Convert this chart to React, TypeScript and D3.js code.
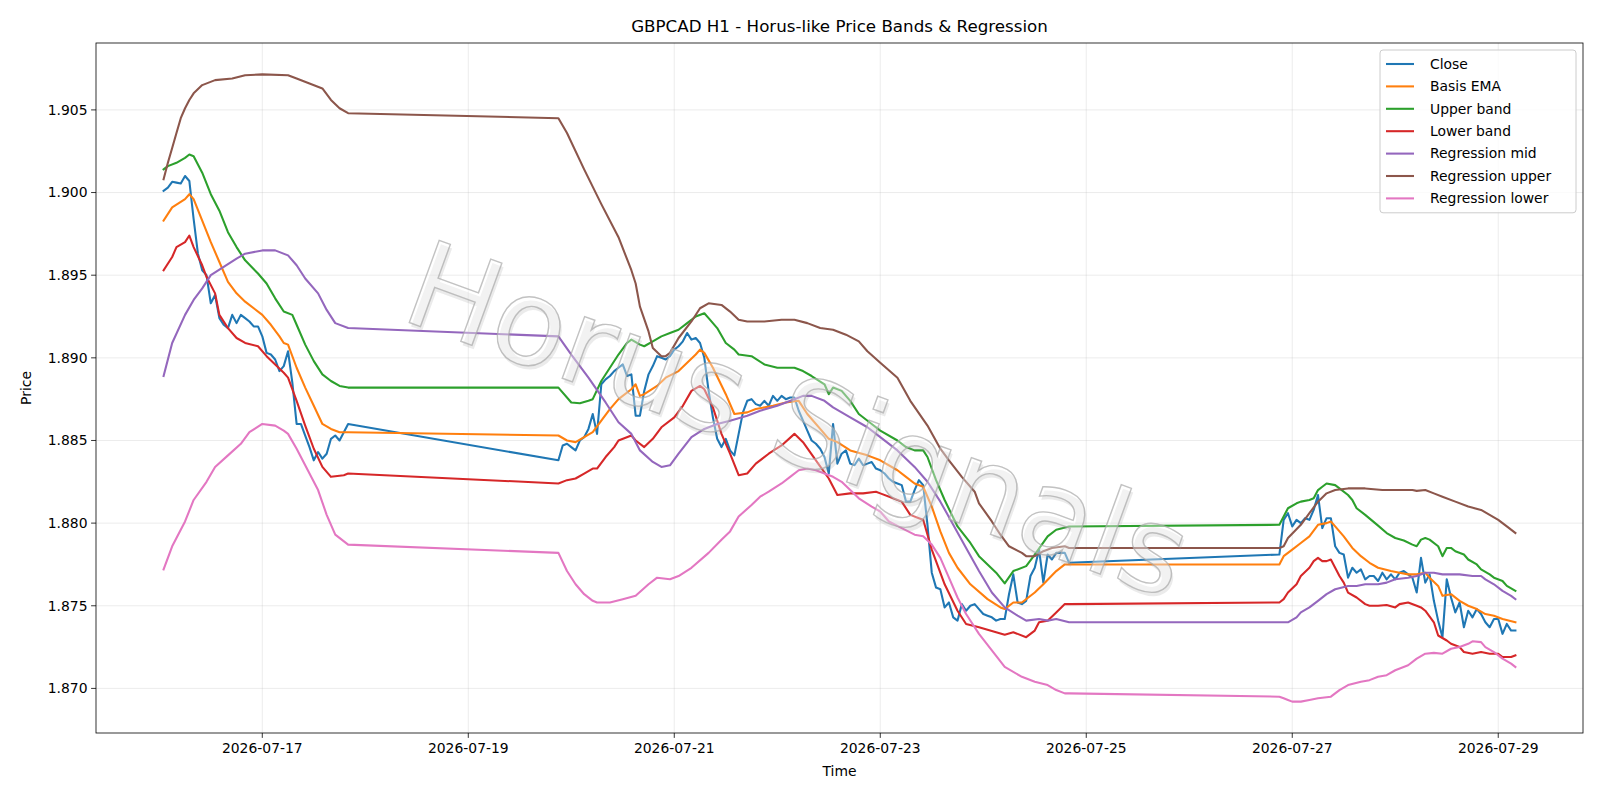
import React from "react";
import * as d3 from "d3";

// hours are counted from the first bar, 2026-07-16 01:00 UTC
const START = Date.UTC(2026, 6, 16, 1);
const HOUR = 3600 * 1000;

const closeS1 = [
  1.9001, 1.9003, 1.90065, 1.9006, 1.90055, 1.901, 1.9007, 1.8984, 1.8963, 1.8953,
  1.895, 1.8933, 1.8938, 1.8924, 1.892, 1.8918, 1.8926, 1.8921, 1.8926, 1.8924,
  1.8922, 1.8919, 1.8919, 1.8913, 1.8903, 1.8902, 1.8899, 1.8892, 1.8895, 1.8904,
  1.8885, 1.886, 1.886, 1.8853, 1.8846, 1.8838, 1.8843, 1.8839, 1.8842, 1.8851,
  1.8853, 1.885, 1.8855, 1.886,
];
const closeS2 = [
  1.8838, 1.8847, 1.8848, 1.8846, 1.8844, 1.885, 1.8852, 1.8857, 1.8866, 1.8854,
  1.8884, 1.8887, 1.8889, 1.8892, 1.8894, 1.8896, 1.8889, 1.889, 1.8865, 1.8865,
  1.888, 1.889, 1.8895, 1.8901, 1.89, 1.8899, 1.8901, 1.8905, 1.8907, 1.891,
  1.8915, 1.8911, 1.8912, 1.8909, 1.89, 1.888, 1.8864, 1.8851, 1.8846, 1.8851,
  1.8844, 1.8841, 1.8854, 1.8867, 1.8874, 1.8875, 1.8872, 1.8871, 1.8874, 1.8871,
  1.8877, 1.8874, 1.8877, 1.8875, 1.8876, 1.8876, 1.8868, 1.8862, 1.8856, 1.885,
  1.8848, 1.8845, 1.884, 1.883, 1.886, 1.8836, 1.8842, 1.8844, 1.8836, 1.8835,
  1.8839, 1.8835, 1.8836, 1.8837, 1.8833, 1.8832, 1.883, 1.8827, 1.8825, 1.8824,
  1.8823, 1.8813, 1.8813, 1.882, 1.8826, 1.8823, 1.8799, 1.877, 1.8761, 1.876,
  1.8749, 1.8752, 1.8743, 1.8741, 1.8751, 1.8747, 1.875, 1.8751, 1.8748, 1.8745,
  1.8744, 1.8743, 1.8741, 1.8742, 1.8742, 1.8757, 1.8769, 1.8752, 1.8751, 1.8753,
  1.8768, 1.8773, 1.8784, 1.8764, 1.8781, 1.8778, 1.8782, 1.8782, 1.8782, 1.8776,
];
const closeS3 = [
  1.8781, 1.8802, 1.8806, 1.8798, 1.8802, 1.88, 1.8803, 1.8802, 1.8808, 1.8817,
  1.8797, 1.8803, 1.8803, 1.8786, 1.8782, 1.8781, 1.8767, 1.8773, 1.877, 1.8772,
  1.8766, 1.8768, 1.8768, 1.8765, 1.877, 1.8766, 1.8769, 1.8766, 1.877, 1.8771,
  1.8769, 1.8767, 1.8758, 1.8779, 1.8764, 1.8769, 1.8753, 1.8741, 1.8731, 1.8766,
  1.8755, 1.8746, 1.8752, 1.8737, 1.8747, 1.8743, 1.8748, 1.8745, 1.874, 1.8737,
  1.8742, 1.8742, 1.8733, 1.8739, 1.8735, 1.8735,
];
// first hour of each trading session (Thu 01:00, Sun 21:00, Sun 21:00)
const sessionStarts = [0, 92, 260];

// indicator lines as [hour, price]
const basisEma: [number, number][] = [
  [0, 1.8983], [2, 1.8991], [5, 1.8996], [6, 1.8999], [7, 1.8996], [9, 1.8983], [11, 1.897], [13, 1.8958],
  [15, 1.8946], [17, 1.8939], [19, 1.8934], [23, 1.8926], [25, 1.892], [27, 1.8913], [28, 1.8909], [29, 1.8908],
  [31, 1.8894], [33, 1.8882], [35, 1.8871], [37, 1.886], [39, 1.8857], [41, 1.8855], [43, 1.8855],
  [92, 1.8853], [94, 1.885], [96, 1.8849], [98, 1.8852], [100, 1.8855], [102, 1.8862], [104, 1.8869], [106, 1.8875],
  [109, 1.8881], [110, 1.8884], [111, 1.8877], [112, 1.8878], [115, 1.8883], [117, 1.8888], [120, 1.8892], [122, 1.8897],
  [124, 1.8902], [125, 1.8905], [126, 1.8903], [128, 1.8894], [131, 1.8878], [133, 1.8866], [136, 1.8867], [138, 1.8869],
  [142, 1.8871], [145, 1.8873], [148, 1.8874], [150, 1.8866], [153, 1.8857], [155, 1.8851], [157, 1.8849], [160, 1.8844],
  [164, 1.8841], [167, 1.8838], [171, 1.8832], [173, 1.8828], [175, 1.8824], [177, 1.8822], [179, 1.881], [181, 1.8795],
  [183, 1.8782], [185, 1.8773], [188, 1.8763], [192, 1.8754], [195, 1.8749], [196, 1.8748], [198, 1.8752], [200, 1.8752],
  [203, 1.8758], [205, 1.8763], [208, 1.8771], [210, 1.8775], [211, 1.8775],
  [260, 1.8775], [261, 1.878], [263, 1.8784], [265, 1.8788], [267, 1.8792], [268, 1.87955], [269, 1.8799], [271, 1.88],
  [272, 1.8801], [273, 1.8798], [275, 1.8792], [277, 1.8785], [279, 1.878], [281, 1.8776], [283, 1.8773], [286, 1.8771],
  [288, 1.877], [290, 1.8769], [292, 1.8769], [294, 1.877], [295, 1.8767], [297, 1.8762], [298, 1.8756], [300, 1.8757],
  [302, 1.8753], [304, 1.875], [306, 1.8748], [308, 1.8745], [310, 1.8744], [312, 1.8742], [315, 1.874],
];
const upperBand: [number, number][] = [
  [0, 1.9014], [1, 1.9016], [3, 1.9018], [5, 1.9021], [6, 1.9023], [7, 1.9022], [9, 1.9012], [11, 1.8999],
  [13, 1.8989], [15, 1.8976], [17, 1.8967], [19, 1.8959], [22, 1.8951], [24, 1.8945], [26, 1.8936], [28, 1.8928],
  [30, 1.8926], [31, 1.892], [33, 1.8908], [35, 1.8898], [37, 1.889], [39, 1.8886], [41, 1.8883], [43, 1.8882],
  [92, 1.8882], [95, 1.8873], [97, 1.88725], [99, 1.8874], [100, 1.8875], [102, 1.8886], [104, 1.8894], [106, 1.8902],
  [108, 1.8909], [109, 1.8911], [111, 1.8908], [112, 1.8907], [114, 1.891], [116, 1.8913], [118, 1.8915], [120, 1.8917],
  [122, 1.8921], [124, 1.8925], [126, 1.8927], [127, 1.8924], [129, 1.8918], [131, 1.8909], [133, 1.8905], [134, 1.8902],
  [137, 1.8901], [140, 1.8896], [143, 1.8894], [147, 1.8894], [149, 1.8892], [151, 1.8889], [154, 1.8884], [155, 1.8878],
  [156, 1.8882], [158, 1.888], [160, 1.8874], [162, 1.8866], [165, 1.886], [167, 1.8856], [171, 1.885], [173, 1.8846],
  [175, 1.8844], [177, 1.8844], [178, 1.884], [180, 1.8826], [182, 1.8814], [185, 1.8798], [188, 1.8788], [190, 1.878],
  [194, 1.877], [196, 1.87635], [198, 1.8771], [201, 1.8774], [203, 1.8781], [206, 1.8792], [208, 1.8796], [211, 1.8798],
  [260, 1.8799], [261, 1.8804], [262, 1.8809], [264, 1.8812], [265, 1.8813], [267, 1.8814], [268, 1.8815], [269, 1.882],
  [270, 1.8822], [271, 1.8824], [273, 1.8823], [274, 1.8821], [276, 1.8817], [277, 1.8814], [278, 1.8809], [280, 1.8805],
  [283, 1.87985], [285, 1.8794], [287, 1.8791], [289, 1.87895], [291, 1.8787], [292, 1.8786], [293, 1.879], [294, 1.8791],
  [295, 1.879], [297, 1.8786], [298, 1.878], [299, 1.8785], [300, 1.8785], [301, 1.8783], [303, 1.8781], [304, 1.8778],
  [306, 1.8775], [307, 1.8772], [309, 1.8769], [310, 1.8767], [312, 1.8765], [313, 1.8762], [315, 1.8759],
];
const lowerBand: [number, number][] = [
  [0, 1.8953], [2, 1.8961], [3, 1.8967], [5, 1.897], [6, 1.8974], [7, 1.8967], [9, 1.8956], [10, 1.8949],
  [12, 1.8939], [13, 1.8926], [15, 1.8918], [17, 1.8912], [19, 1.8909], [22, 1.8907], [24, 1.8901], [26, 1.8896],
  [28, 1.8891], [29, 1.8888], [31, 1.8874], [33, 1.8859], [35, 1.8845], [37, 1.8834], [39, 1.8828], [42, 1.8829], [43, 1.883],
  [92, 1.8824], [94, 1.8826], [96, 1.8827], [98, 1.883], [100, 1.8833], [101, 1.8833], [103, 1.884], [105, 1.8846],
  [106, 1.885], [109, 1.8853], [110, 1.885], [112, 1.8846], [114, 1.8851], [116, 1.8858], [119, 1.8864], [121, 1.8871],
  [123, 1.888], [125, 1.8883], [126, 1.8881], [128, 1.887], [130, 1.8854], [132, 1.8842], [134, 1.8829], [136, 1.883],
  [138, 1.8836], [141, 1.8842], [144, 1.8847], [147, 1.8854], [149, 1.8849], [152, 1.8838], [155, 1.8827], [157, 1.8817],
  [160, 1.8818], [163, 1.8818], [166, 1.8819], [167, 1.8818], [170, 1.8815], [172, 1.8813], [174, 1.8805], [176, 1.8803],
  [177, 1.8802], [179, 1.8784], [182, 1.8763], [185, 1.8747], [187, 1.8739], [190, 1.8737], [194, 1.8734], [196, 1.87325],
  [198, 1.8734], [201, 1.8731], [203, 1.8735], [204, 1.874], [206, 1.8741], [208, 1.8746], [210, 1.8751], [211, 1.8751],
  [260, 1.8752], [261, 1.8754], [262, 1.8758], [264, 1.8763], [265, 1.8768], [267, 1.8773], [268, 1.8777], [269, 1.8779],
  [270, 1.8777], [271, 1.8777], [272, 1.8778], [273, 1.8773], [274, 1.8768], [275, 1.8764], [276, 1.8758], [278, 1.8755],
  [280, 1.8751], [281, 1.875], [283, 1.875], [285, 1.87505], [287, 1.8749], [288, 1.8751], [290, 1.8752], [292, 1.875],
  [293, 1.8749], [294, 1.8747], [296, 1.874], [297, 1.8732], [299, 1.8729], [300, 1.8727], [302, 1.8725], [303, 1.8722],
  [305, 1.8721], [307, 1.8722], [309, 1.8721], [311, 1.8721], [312, 1.8719], [314, 1.8719], [315, 1.872],
];
const regMid: [number, number][] = [
  [0, 1.8889], [2, 1.8909], [5, 1.8926], [7, 1.8935], [9, 1.8942], [11, 1.895], [14, 1.8955], [17, 1.896],
  [19, 1.8963], [23, 1.8965], [26, 1.8965], [29, 1.8962], [31, 1.8956], [33, 1.8948], [36, 1.8939], [38, 1.8929],
  [40, 1.8921], [43, 1.8918],
  [92, 1.8913], [95, 1.8902], [99, 1.8888], [103, 1.8873], [106, 1.8861], [109, 1.8854], [111, 1.8844], [114, 1.8837],
  [116, 1.8834], [118, 1.8835], [120, 1.8842], [123, 1.8852], [126, 1.8857], [129, 1.886], [132, 1.8862], [136, 1.8865],
  [139, 1.8868], [143, 1.8871], [147, 1.8875], [149, 1.8877], [151, 1.8877], [154, 1.8874], [156, 1.887], [160, 1.8864],
  [164, 1.8858], [167, 1.8852], [171, 1.8844], [175, 1.8834], [178, 1.8825], [181, 1.8813], [184, 1.8799], [187, 1.8785],
  [190, 1.8771], [193, 1.8758], [196, 1.8749], [199, 1.8744], [201, 1.8741], [204, 1.8742], [206, 1.8741], [208, 1.8742], [211, 1.874],
  [260, 1.874], [262, 1.874], [264, 1.8743], [265, 1.8746], [267, 1.8749], [269, 1.8753], [271, 1.8757], [273, 1.876],
  [276, 1.8762], [278, 1.8762], [280, 1.8763], [283, 1.8763], [285, 1.8764], [287, 1.8766], [290, 1.8767], [292, 1.8768],
  [294, 1.877], [296, 1.877], [298, 1.8769], [300, 1.8769], [302, 1.8769], [305, 1.8768], [307, 1.8768], [308, 1.8766],
  [310, 1.8763], [312, 1.8759], [314, 1.8756], [315, 1.8754],
];
const regUpper: [number, number][] = [
  [0, 1.9008], [1, 1.9018], [2, 1.9027], [3, 1.9036], [4, 1.9045], [5, 1.9051], [6, 1.9056], [7, 1.906], [9, 1.9065], [12, 1.9068],
  [16, 1.9069], [19, 1.9071], [23, 1.90715], [29, 1.9071], [31, 1.9069], [34, 1.9066], [37, 1.9063], [39, 1.9056],
  [41, 1.9051], [43, 1.9048],
  [92, 1.9045], [94, 1.9036], [98, 1.9014], [102, 1.8993], [106, 1.8973], [109, 1.8953], [110, 1.8945], [111, 1.8931],
  [113, 1.8916], [114, 1.8906], [116, 1.8901], [117, 1.8901], [118, 1.8903], [120, 1.8912], [123, 1.8922], [125, 1.893],
  [127, 1.8933], [130, 1.8932], [132, 1.8928], [134, 1.8923], [136, 1.8922], [140, 1.8922], [144, 1.8923], [147, 1.8923],
  [150, 1.8921], [153, 1.8918], [156, 1.8917], [159, 1.8914], [162, 1.891], [164, 1.8904], [167, 1.8897], [171, 1.8888],
  [174, 1.8874], [178, 1.8859], [181, 1.8845], [183, 1.8838], [186, 1.8828], [189, 1.8819], [190, 1.8812], [193, 1.8801],
  [195, 1.8793], [197, 1.8786], [200, 1.8782], [201, 1.878], [203, 1.878], [205, 1.8783], [207, 1.8785], [210, 1.8786], [211, 1.8785],
  [260, 1.8785], [261, 1.8786], [262, 1.8791], [265, 1.8799], [267, 1.8806], [269, 1.8813], [271, 1.8818], [273, 1.882],
  [276, 1.8821], [280, 1.8821], [284, 1.882], [288, 1.882], [291, 1.882], [292, 1.88195], [294, 1.882], [296, 1.8818],
  [298, 1.8816], [301, 1.8813], [304, 1.881], [307, 1.8808], [309, 1.8805], [311, 1.8802], [313, 1.8798], [315, 1.8794],
];
const regLower: [number, number][] = [
  [0, 1.8772], [2, 1.8786], [5, 1.8801], [7, 1.8814], [10, 1.8825], [12, 1.8834], [15, 1.8841], [18, 1.8848],
  [20, 1.8855], [23, 1.886], [26, 1.8859], [28, 1.8856], [29, 1.8854], [31, 1.8845], [33, 1.8835], [36, 1.882],
  [38, 1.8805], [40, 1.8793], [43, 1.8787],
  [92, 1.8782], [94, 1.8771], [96, 1.8763], [98, 1.8757], [100, 1.8753], [101, 1.8752], [104, 1.8752], [107, 1.8754],
  [110, 1.8756], [113, 1.8763], [115, 1.8767], [118, 1.8766], [120, 1.8768], [123, 1.8773], [127, 1.8782], [130, 1.879],
  [132, 1.8795], [134, 1.8804], [137, 1.8811], [139, 1.8816], [141, 1.8819], [144, 1.8824], [146, 1.8828], [148, 1.8832],
  [150, 1.8833], [152, 1.8832], [154, 1.883], [156, 1.8828], [158, 1.8825], [160, 1.882], [162, 1.8815], [165, 1.881],
  [167, 1.8807], [169, 1.8801], [172, 1.8797], [175, 1.8793], [177, 1.8792], [179, 1.8787], [181, 1.8779], [183, 1.8767],
  [185, 1.8755], [187, 1.8745], [190, 1.8733], [193, 1.8723], [196, 1.8713], [200, 1.8707], [203, 1.8704], [206, 1.8702],
  [208, 1.8699], [210, 1.8697], [211, 1.8697],
  [260, 1.8695], [261, 1.8694], [262, 1.8693], [263, 1.8692], [265, 1.8692], [267, 1.8693], [269, 1.8694], [272, 1.8695],
  [274, 1.8699], [276, 1.8702], [279, 1.8704], [281, 1.8705], [283, 1.8707], [285, 1.8708], [287, 1.8711], [290, 1.8714],
  [292, 1.8718], [294, 1.8721], [296, 1.87215], [298, 1.8721], [300, 1.8724], [302, 1.8725], [304, 1.8727], [305, 1.87285],
  [307, 1.8728], [308, 1.8725], [310, 1.8722], [312, 1.8718], [314, 1.8715], [315, 1.8713],
];

const labels = ["Close", "Basis EMA", "Upper band", "Lower band", "Regression mid", "Regression upper", "Regression lower"];
const colors = ["#1f77b4", "#ff7f0e", "#2ca02c", "#d62728", "#9467bd", "#8c564b", "#e377c2"];

const W = 1600;
const H = 800;
const margin = { top: 43, right: 17, bottom: 67, left: 96 };
const FONT = "DejaVu Sans, sans-serif";

export default function App() {
  const close: [number, number][] = [];
  [closeS1, closeS2, closeS3].forEach((vals, i) => vals.forEach((v, k) => close.push([sessionStarts[i] + k, v])));
  const series = [close, basisEma, upperBand, lowerBand, regMid, regUpper, regLower];

  const toDate = (h: number) => new Date(START + h * HOUR);
  const all = series.flat();

  // matplotlib style 5% margins around the data
  const [h0, h1] = d3.extent(all, (d) => d[0]) as [number, number];
  const hp = (h1 - h0) * 0.05;
  const x = d3
    .scaleUtc()
    .domain([toDate(h0 - hp), toDate(h1 + hp)])
    .range([margin.left, W - margin.right]);

  const [v0, v1] = d3.extent(all, (d) => d[1]) as [number, number];
  const vp = (v1 - v0) * 0.05;
  const y = d3
    .scaleLinear()
    .domain([v0 - vp, v1 + vp])
    .range([H - margin.bottom, margin.top]);

  const line = d3
    .line<[number, number]>()
    .x((d) => x(toDate(d[0])))
    .y((d) => y(d[1]));

  const xTicks = x.ticks(d3.utcDay.every(2)!);
  const yTicks = y.ticks(8);
  const fmtDate = d3.utcFormat("%Y-%m-%d");
  const fmtY = d3.format(".3f");

  const left = margin.left;
  const right = W - margin.right;
  const top = margin.top;
  const bottom = H - margin.bottom;

  // legend box, upper right
  const lgW = 196;
  const lgX = right - 7 - lgW;
  const lgY = top + 7;
  const rowH = 22.4;

  return (
    <svg width={W} height={H} style={{ display: "block", position: "absolute", left: 0, top: 0, background: "#fff" }} fontFamily={FONT}>
      <rect width={W} height={H} fill="#fff" />
      <text x={(left + right) / 2} y={32} textAnchor="middle" fontSize={16.7} fill="#000">
        GBPCAD H1 - Horus-like Price Bands &amp; Regression
      </text>

      {/* grid */}
      {xTicks.map((t) => (
        <line key={"gx" + +t} x1={x(t)} x2={x(t)} y1={top} y2={bottom} stroke="#b0b0b0" strokeOpacity={0.3} strokeWidth={0.8} />
      ))}
      {yTicks.map((t) => (
        <line key={"gy" + t} x1={left} x2={right} y1={y(t)} y2={y(t)} stroke="#b0b0b0" strokeOpacity={0.3} strokeWidth={0.8} />
      ))}

      {/* lines */}
      <g clipPath="url(#plot)">
        {series.map((s, i) => (
          <path key={labels[i]} d={line(s) ?? ""} fill="none" stroke={colors[i]} strokeWidth={2.08} strokeLinejoin="round" strokeLinecap="square" />
        ))}
      </g>
      <defs>
        <clipPath id="plot">
          <rect x={left} y={top} width={right - left} height={bottom - top} />
        </clipPath>
      </defs>

      {/* watermark */}
      <g transform="translate(798,420) rotate(20)" pointerEvents="none">
        <text x={3} y={3} textAnchor="middle" dominantBaseline="central" fontSize={120} fill="#9a9a9a" fillOpacity={0.2}>
          Horus Signals
        </text>
        <text x={0} y={0} textAnchor="middle" dominantBaseline="central" fontSize={120} fill="#ffffff" fillOpacity={0.35} stroke="#a8a8a8" strokeOpacity={0.7} strokeWidth={1.4}>
          Horus Signals
        </text>
      </g>

      {/* axes frame */}
      <rect x={left} y={top} width={right - left} height={bottom - top} fill="none" stroke="#000" strokeWidth={0.8} />

      {xTicks.map((t) => (
        <g key={"tx" + +t} transform={`translate(${x(t)},${bottom})`}>
          <line y2={4.9} stroke="#000" strokeWidth={0.8} />
          <text y={20} textAnchor="middle" fontSize={13.9} fill="#000">
            {fmtDate(t)}
          </text>
        </g>
      ))}
      {yTicks.map((t) => (
        <g key={"ty" + t} transform={`translate(${left},${y(t)})`}>
          <line x2={-4.9} stroke="#000" strokeWidth={0.8} />
          <text x={-8.5} dy="0.35em" textAnchor="end" fontSize={13.9} fill="#000">
            {fmtY(t)}
          </text>
        </g>
      ))}
      <text x={(left + right) / 2} y={776} textAnchor="middle" fontSize={13.9} fill="#000">
        Time
      </text>
      <text transform={`translate(31,${(top + bottom) / 2}) rotate(-90)`} textAnchor="middle" fontSize={13.9} fill="#000">
        Price
      </text>

      {/* legend */}
      <g transform={`translate(${lgX},${lgY})`}>
        <rect width={lgW} height={rowH * 7 + 6} rx={3} fill="#fff" fillOpacity={0.8} stroke="#cccccc" strokeWidth={1} />
        {labels.map((lab, i) => (
          <g key={lab} transform={`translate(0,${14 + i * rowH})`}>
            <line x1={6} x2={34} stroke={colors[i]} strokeWidth={2.08} />
            <text x={50} dy="0.35em" fontSize={13.9} fill="#000">
              {lab}
            </text>
          </g>
        ))}
      </g>
    </svg>
  );
}
